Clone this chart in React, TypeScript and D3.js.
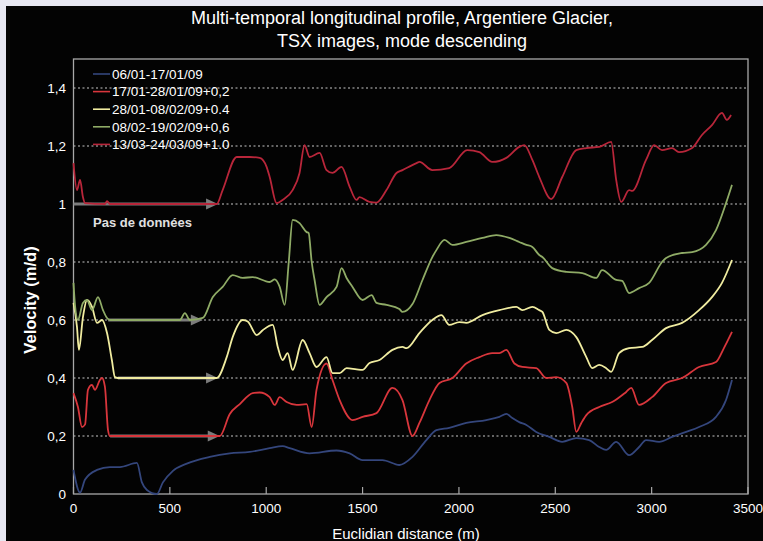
import React from "react";
import * as d3 from "d3";

const TITLE_LINES = ["Multi-temporal longitudinal profile, Argentiere Glacier,", "TSX images, mode descending"];
const X_LABEL = "Euclidian distance (m)";
const Y_LABEL = "Velocity (m/d)";
const X_TICKS = [0, 500, 1000, 1500, 2000, 2500, 3000, 3500];
const Y_TICKS = [0, 0.2, 0.4, 0.6, 0.8, 1.0, 1.2, 1.4];
const Y_TICK_LABELS = ["0", "0,2", "0,4", "0,6", "0,8", "1", "1,2", "1,4"];
const SERIES_NAMES = ["06/01-17/01/09", "17/01-28/01/09+0,2", "28/01-08/02/09+0.4", "08/02-19/02/09+0,6", "13/03-24/03/09+1.0"];
const SERIES_COLORS = ["#34467c", "#d8363c", "#f0eca0", "#8fab66", "#b8263a"];
const NO_DATA_LABEL = "Pas de données";

const S1: [number, number][] = [
  [0, 0.083], [34, 0.005], [60, 0.05], [122, 0.083], [189, 0.093], [241, 0.093], [329, 0.107], [355, 0.04],
  [381, 0.014], [433, 0.0], [464, 0.04], [516, 0.08], [588, 0.105], [707, 0.128], [811, 0.14], [914, 0.145],
  [1018, 0.158], [1085, 0.165], [1122, 0.158], [1225, 0.14], [1365, 0.15], [1433, 0.14], [1500, 0.117],
  [1603, 0.117], [1691, 0.1], [1759, 0.128], [1831, 0.186], [1883, 0.22], [1950, 0.228], [2038, 0.245],
  [2142, 0.255], [2210, 0.266], [2246, 0.276], [2277, 0.262], [2313, 0.248], [2350, 0.238], [2401, 0.214],
  [2469, 0.197], [2536, 0.18], [2609, 0.193], [2676, 0.186], [2728, 0.162], [2764, 0.152], [2816, 0.18],
  [2883, 0.134], [2935, 0.162], [2971, 0.186], [3039, 0.18], [3106, 0.197], [3179, 0.214], [3246, 0.231],
  [3334, 0.266], [3386, 0.324], [3417, 0.393],
];

const S2: [number, number][] = [
  [0, 0.348], [23, 0.3], [44, 0.231], [60, 0.24], [75, 0.359], [96, 0.376], [111, 0.359], [137, 0.393],
  [148, 0.4], [163, 0.37], [179, 0.221], [189, 0.2], [759, 0.2], [811, 0.276], [863, 0.31], [930, 0.348],
  [966, 0.35], [1018, 0.334], [1044, 0.307], [1070, 0.334], [1106, 0.317], [1158, 0.307], [1210, 0.31],
  [1236, 0.231], [1261, 0.359], [1313, 0.45], [1344, 0.393], [1381, 0.324], [1448, 0.255], [1500, 0.266],
  [1572, 0.279], [1655, 0.366], [1707, 0.324], [1759, 0.2], [1795, 0.245], [1847, 0.324], [1899, 0.383],
  [1966, 0.4], [2038, 0.45], [2106, 0.472], [2173, 0.486], [2210, 0.486], [2246, 0.497], [2288, 0.45],
  [2329, 0.438], [2401, 0.434], [2453, 0.4], [2505, 0.403], [2557, 0.383], [2588, 0.3], [2609, 0.214],
  [2635, 0.245], [2661, 0.272], [2728, 0.3], [2795, 0.317], [2868, 0.352], [2894, 0.366], [2935, 0.307],
  [3002, 0.334], [3075, 0.383], [3158, 0.4], [3246, 0.438], [3334, 0.455], [3375, 0.503], [3417, 0.559],
];

const S3: [number, number][] = [
  [0, 0.659], [18, 0.576], [28, 0.497], [49, 0.61], [70, 0.669], [96, 0.645], [122, 0.59], [148, 0.6],
  [174, 0.555], [199, 0.462], [215, 0.403], [230, 0.4], [743, 0.4], [795, 0.472], [826, 0.541], [878, 0.6],
  [904, 0.595], [951, 0.548], [982, 0.565], [1034, 0.583], [1060, 0.507], [1085, 0.462], [1111, 0.486],
  [1137, 0.428], [1189, 0.531], [1225, 0.486], [1261, 0.438], [1313, 0.472], [1344, 0.417], [1381, 0.417],
  [1417, 0.434], [1469, 0.43], [1500, 0.428], [1536, 0.452], [1588, 0.462], [1655, 0.497], [1707, 0.507],
  [1728, 0.503], [1795, 0.555], [1862, 0.6], [1909, 0.617], [1950, 0.583], [2002, 0.593], [2038, 0.59],
  [2122, 0.617], [2210, 0.634], [2298, 0.645], [2329, 0.634], [2381, 0.645], [2417, 0.634], [2433, 0.628],
  [2469, 0.566], [2505, 0.555], [2557, 0.566], [2609, 0.541], [2661, 0.472], [2692, 0.434], [2728, 0.445],
  [2764, 0.434], [2790, 0.421], [2831, 0.486], [2883, 0.503], [2951, 0.507], [3002, 0.531], [3075, 0.572],
  [3158, 0.59], [3246, 0.634], [3313, 0.679], [3365, 0.728], [3417, 0.807],
];

const S4: [number, number][] = [
  [0, 0.728], [8, 0.65], [23, 0.6], [49, 0.659], [70, 0.669], [96, 0.634], [127, 0.679], [153, 0.634],
  [174, 0.607], [189, 0.6], [552, 0.6], [578, 0.624], [604, 0.6], [671, 0.607], [723, 0.679], [774, 0.714],
  [826, 0.755], [878, 0.745], [930, 0.748], [1018, 0.731], [1044, 0.74], [1070, 0.714], [1096, 0.652],
  [1117, 0.8], [1137, 0.945], [1173, 0.934], [1210, 0.903], [1220, 0.9], [1236, 0.8], [1251, 0.738],
  [1277, 0.652], [1313, 0.679], [1365, 0.714], [1391, 0.779], [1417, 0.745], [1448, 0.714], [1500, 0.669],
  [1547, 0.686], [1572, 0.659], [1624, 0.652], [1691, 0.638], [1707, 0.628], [1759, 0.655], [1811, 0.738],
  [1862, 0.817], [1883, 0.841], [1925, 0.876], [1966, 0.859], [2038, 0.869], [2122, 0.883], [2194, 0.893],
  [2262, 0.883], [2313, 0.869], [2350, 0.859], [2381, 0.852], [2417, 0.824], [2433, 0.817], [2484, 0.779],
  [2557, 0.766], [2640, 0.762], [2712, 0.745], [2743, 0.772], [2816, 0.738], [2847, 0.735], [2883, 0.693],
  [2935, 0.71], [2987, 0.728], [3054, 0.8], [3075, 0.814], [3158, 0.831], [3210, 0.834], [3282, 0.859],
  [3334, 0.91], [3386, 1.003], [3417, 1.066],
];

const S5: [number, number][] = [
  [0, 1.141], [18, 1.048], [34, 1.083], [49, 1.024], [60, 1.003], [163, 1.0], [174, 1.01], [189, 1.0],
  [743, 1.0], [774, 1.048], [847, 1.162], [914, 1.162], [966, 1.159], [1002, 1.128], [1018, 1.093],
  [1054, 1.003], [1085, 1.014], [1137, 1.048], [1173, 1.107], [1199, 1.203], [1225, 1.162], [1277, 1.176],
  [1313, 1.117], [1344, 1.107], [1391, 1.128], [1433, 1.059], [1469, 1.014], [1484, 1.024], [1536, 1.007],
  [1572, 1.005], [1624, 1.048], [1676, 1.107], [1707, 1.117], [1780, 1.141], [1795, 1.145], [1862, 1.117],
  [1950, 1.124], [2043, 1.186], [2106, 1.179], [2173, 1.145], [2246, 1.159], [2313, 1.197], [2339, 1.203],
  [2381, 1.152], [2417, 1.093], [2479, 1.017], [2536, 1.093], [2609, 1.186], [2661, 1.193], [2728, 1.197],
  [2790, 1.214], [2816, 1.083], [2842, 1.007], [2883, 1.048], [2899, 1.045], [2971, 1.152], [3013, 1.203],
  [3054, 1.186], [3106, 1.193], [3142, 1.179], [3210, 1.193], [3261, 1.238], [3313, 1.272], [3365, 1.314],
  [3390, 1.29], [3412, 1.307],
];

const SERIES = [S1, S2, S3, S4, S5];

// "no data" arrows: [from distance, to distance, level]
const ARROW_FROM = [0, 180, 230, 190];
const ARROW_TO = [750, 671, 750, 759];
const ARROW_LEVEL = [1.0, 0.6, 0.4, 0.2];

const W = 763;
const H = 541;
const FONT = "'Liberation Sans', Arial, Helvetica, sans-serif";

export default function App() {
  const x = d3.scaleLinear().domain([0, 3500]).range([73.5, 748]);
  const y = d3.scaleLinear().domain([0, 1.5]).range([494, 59]);
  const line = d3
    .line<[number, number]>()
    .x((d) => x(d[0]))
    .y((d) => y(d[1]))
    .curve(d3.curveMonotoneX);

  const legendY0 = 74;
  const legendDy = 17.6;

  return (
    <svg
      width={W}
      height={H}
      style={{ position: "absolute", left: 0, top: 0, display: "block" }}
      fontFamily={FONT}
    >
      <rect x={0} y={0} width={W} height={H} fill="#e7e7f1" />
      <rect x={6} y={6} width={W - 6} height={H - 6} fill="#030303" />

      {TITLE_LINES.map((t, i) => (
        <text key={i} x={402} y={24 + i * 23} textAnchor="middle" fill="#ffffff" fontSize={18}>
          {t}
        </text>
      ))}

      {/* gridlines */}
      {Y_TICKS.filter((v) => v > 0).map((v) => (
        <line
          key={v}
          x1={x(0)}
          x2={x(3500)}
          y1={y(v)}
          y2={y(v)}
          stroke="#c8c8c8"
          strokeWidth={1}
          strokeDasharray="2,2.5"
        />
      ))}

      {/* frame */}
      <rect x={x(0)} y={y(1.5)} width={x(3500) - x(0)} height={y(0) - y(1.5)} fill="none" stroke="#a8a8a8" strokeWidth={1.3} />

      {/* x ticks */}
      {X_TICKS.map((v) => (
        <g key={v}>
          <line x1={x(v)} x2={x(v)} y1={y(0)} y2={y(0) - 7} stroke="#a8a8a8" strokeWidth={1.2} />
          <text x={x(v)} y={513} textAnchor="middle" fill="#ffffff" fontSize={13.5}>
            {v}
          </text>
        </g>
      ))}

      {/* y tick labels */}
      {Y_TICKS.map((v, i) => (
        <text key={v} x={66} y={y(v) + 4.5} textAnchor="end" fill="#ffffff" fontSize={13.5}>
          {Y_TICK_LABELS[i]}
        </text>
      ))}

      {/* axis titles */}
      <text x={406} y={539} textAnchor="middle" fill="#ffffff" fontSize={15}>
        {X_LABEL}
      </text>
      <text
        transform={`translate(36, 300) rotate(-90)`}
        textAnchor="middle"
        fill="#ffffff"
        fontSize={16.5}
        fontWeight="bold"
      >
        {Y_LABEL}
      </text>

      {/* arrows */}
      {ARROW_LEVEL.map((lv, i) => {
        const x1 = x(ARROW_FROM[i]);
        const x2 = x(ARROW_TO[i]);
        const yy = y(lv);
        return (
          <g key={i}>
            <line x1={x1} x2={x2 - 10} y1={yy} y2={yy} stroke="#7c7c7c" strokeWidth={3} />
            <path d={`M${x2},${yy} L${x2 - 12},${yy - 5.5} L${x2 - 12},${yy + 5.5} Z`} fill="#7c7c7c" />
          </g>
        );
      })}

      {/* series */}
      {SERIES.map((s, i) => (
        <path key={i} d={line(s) || ""} fill="none" stroke={SERIES_COLORS[i]} strokeWidth={1.8} strokeLinejoin="round" />
      ))}

      {/* no data label */}
      <text x={93} y={227} fill="#e0e0e0" fontSize={13} fontWeight="bold">
        {NO_DATA_LABEL}
      </text>

      {/* legend */}
      {SERIES_NAMES.map((n, i) => (
        <g key={n}>
          <line
            x1={93}
            x2={110}
            y1={legendY0 + i * legendDy}
            y2={legendY0 + i * legendDy}
            stroke={SERIES_COLORS[i]}
            strokeWidth={1.6}
          />
          <text x={112} y={legendY0 + i * legendDy + 4.8} fill="#ffffff" fontSize={13.5}>
            {n}
          </text>
        </g>
      ))}
    </svg>
  );
}
